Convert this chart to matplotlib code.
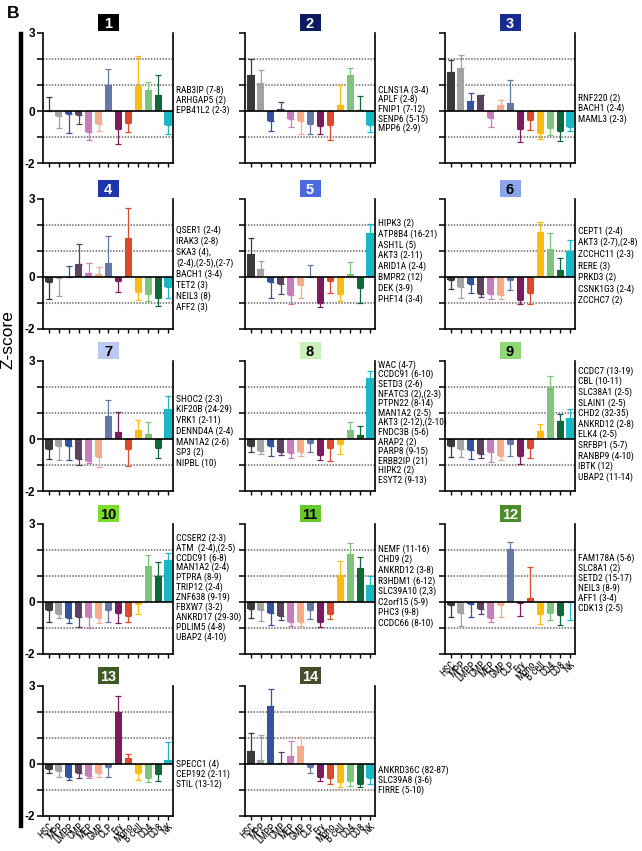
import matplotlib
matplotlib.use("Agg")
import matplotlib.pyplot as plt
from matplotlib import font_manager as fm
from matplotlib.patches import Rectangle
import numpy as np

# ---------------- data ----------------
cell_types = ["HSC", "MPP", "LMPP", "CMP", "MEP", "GMP", "CLP", "Ery", "Mono",
              "B cell", "CD4", "CD8", "NK"]

panel_ids = ["1", "2", "3", "4", "5", "6", "7", "8", "9", "10", "11", "12", "13", "14"]

mean_1 = [0.01, -0.2, -0.13, -0.15, -0.8, -0.5, 1.0, -0.7, -0.45, 0.97, 0.82, 0.6, -0.55]
sem_1 = [0.54, 0.45, 0.71, 0.35, 0.3, 0.25, 0.6, 0.55, 0.35, 1.13, 0.28, 0.77, 0.33]
mean_2 = [1.38, 1.06, -0.39, 0.06, -0.3, -0.39, -0.5, -0.58, -0.55, 0.22, 1.38, 0.05, -0.54]
sem_2 = [0.62, 0.5, 0.38, 0.3, 0.3, 0.49, 0.38, 0.3, 0.57, 0.78, 0.26, 0.53, 0.26]
mean_3 = [1.51, 1.65, 0.37, 0.6, -0.28, 0.22, 0.3, -0.71, -0.36, -0.86, -0.66, -0.77, -0.6]
sem_3 = [0.45, 0.5, 0.34, 0.02, 0.32, 0.19, 0.89, 0.49, 0.38, 0.21, 0.27, 0.39, 0.17]
mean_4 = [-0.19, -0.02, 0.01, 0.49, 0.14, 0.1, 0.54, -0.14, 1.51, -0.57, -0.65, -0.8, -0.4]
sem_4 = [0.65, 0.7, 0.4, 0.77, 0.39, 0.27, 1.03, 0.43, 1.15, 0.3, 0.27, 0.3, 0.41]
mean_5 = [0.9, 0.31, -0.21, -0.28, -0.71, -0.32, 0.01, -1.0, -0.16, -0.67, 0.13, -0.44, 1.69]
sem_5 = [0.6, 0.31, 0.59, 0.37, 0.33, 0.48, 0.46, 0.16, 0.45, 0.27, 0.45, 0.56, 0.33]
mean_6 = [-0.13, -0.39, -0.27, -0.65, -0.67, -0.71, -0.13, -0.87, -0.6, 1.72, 1.06, 0.28, 1.0]
sem_6 = [0.35, 0.43, 0.34, 0.13, 0.17, 0.13, 0.36, 0.18, 0.45, 0.41, 0.65, 0.44, 0.44]
mean_7 = [-0.37, -0.26, -0.26, -0.76, -0.83, -0.69, 0.87, 0.26, -0.37, 0.33, 0.18, -0.33, 1.14]
sem_7 = [0.41, 0.56, 0.56, 0.25, 0.09, 0.39, 0.64, 0.77, 0.68, 0.41, 0.46, 0.39, 0.5]
mean_8 = [-0.27, -0.48, -0.27, -0.49, -0.52, -0.5, -0.17, -0.62, -0.36, -0.19, 0.36, 0.17, 2.35]
sem_8 = [0.23, 0.1, 0.39, 0.13, 0.22, 0.16, 0.32, 0.18, 0.5, 0.39, 0.28, 0.34, 0.26]
mean_9 = [-0.25, -0.39, -0.43, -0.56, -0.51, -0.66, -0.21, -0.66, -0.36, 0.3, 2.0, 0.69, 0.79]
sem_9 = [0.45, 0.3, 0.34, 0.17, 0.39, 0.16, 0.45, 0.31, 0.38, 0.28, 0.43, 0.26, 0.38]
mean_10 = [-0.32, -0.45, -0.61, -0.57, -0.57, -0.63, -0.32, -0.41, -0.52, -0.09, 1.4, 1.01, 1.63]
sem_10 = [0.44, 0.18, 0.19, 0.39, 0.43, 0.16, 0.44, 0.39, 0.24, 0.39, 0.39, 0.51, 0.27]
mean_11 = [-0.25, -0.32, -0.44, -0.52, -0.78, -0.75, -0.31, -0.75, -0.48, 1.04, 1.84, 1.32, 0.66]
sem_11 = [0.35, 0.42, 0.46, 0.18, 0.13, 0.16, 0.35, 0.23, 0.18, 0.53, 0.44, 0.42, 0.35]
mean_12 = [-0.13, -0.41, -0.09, -0.25, -0.63, -0.13, 2.05, -0.05, 0.16, -0.48, -0.44, -0.51, -0.01]
sem_12 = [0.43, 0.5, 0.47, 0.22, 0.12, 0.43, 0.27, 0.47, 1.18, 0.35, 0.24, 0.36, 0.67]
mean_13 = [-0.2, -0.25, -0.5, -0.35, -0.45, -0.35, -0.1, 2.0, 0.25, -0.35, -0.55, -0.4, 0.15]
sem_13 = [0.15, 0.25, 0.1, 0.2, 0.1, 0.15, 0.4, 0.6, 0.15, 0.25, 0.15, 0.25, 0.7]
mean_14 = [0.5, 0.15, 2.25, 0.05, 0.3, 0.7, -0.1, -0.5, -0.55, -0.7, -0.65, -0.75, -0.55]
sem_14 = [0.7, 0.95, 0.65, 0.4, 0.6, 0.35, 0.25, 0.15, 0.2, 0.2, 0.2, 0.15, 0.2]

genes_1 = ["RAB3IP (7-8)", "ARHGAP5 (2)", "EPB41L2 (2-3)"]
genes_2 = ["CLNS1A (3-4)", "APLF (2-8)", "FNIP1 (7-12)", "SENP6 (5-15)", "MPP6 (2-9)"]
genes_3 = ["RNF220 (2)", "BACH1 (2-4)", "MAML3 (2-3)"]
genes_4 = ["QSER1 (2-4)", "IRAK3 (2-8)", "SKA3 (4),", "(2-4),(2-5),(2-7)", "BACH1 (3-4)",
           "TET2 (3)", "NEIL3 (8)", "AFF2 (3)"]
genes_5 = ["HIPK3 (2)", "ATP8B4 (16-21)", "ASH1L (5)", "AKT3 (2-11)", "ARID1A (2-4)",
           "BMPR2 (12)", "DEK (3-9)", "PHF14 (3-4)"]
genes_6 = ["CEPT1 (2-4)", "AKT3 (2-7),(2-8)", "ZCCHC11 (2-3)", "RERE (3)", "PRKD3 (2)",
           "CSNK1G3 (2-4)", "ZCCHC7 (2)"]
genes_7 = ["SHOC2 (2-3)", "KIF20B (24-29)", "VRK1 (2-11)", "DENND4A (2-4)", "MAN1A2 (2-6)",
           "SP3 (2)", "NIPBL (10)"]
genes_8 = ["WAC (4-7)", "CCDC91 (6-10)", "SETD3 (2-6)", "NFATC3 (2),(2-3)", "PTPN22 (8-14)",
           "MAN1A2 (2-5)", "AKT3 (2-12),(2-10)", "FNDC3B (5-6)", "ARAP2 (2)", "PARP8 (9-15)",
           "ERBB2IP (21)", "HIPK2 (2)", "ESYT2 (9-13)"]
genes_9 = ["CCDC7 (13-19)", "CBL (10-11)", "SLC38A1 (2-5)", "SLAIN1 (2-5)", "CHD2 (32-35)",
           "ANKRD12 (2-8)", "ELK4 (2-5)", "SRFBP1 (5-7)", "RANBP9 (4-10)", "IBTK (12)",
           "UBAP2 (11-14)"]
genes_10 = ["CCSER2 (2-3)", "ATM  (2-4),(2-5)", "CCDC91 (6-8)", "MAN1A2 (2-4)", "PTPRA (8-9)",
            "TRIP12 (2-4)", "ZNF638 (9-19)", "FBXW7 (3-2)", "ANKRD17 (29-30)", "PDLIM5 (4-8)",
            "UBAP2 (4-10)"]
genes_11 = ["NEMF (11-16)", "CHD9 (2)", "ANKRD12 (3-8)", "R3HDM1 (6-12)", "SLC39A10 (2,3)",
            "C2orf15 (5-9)", "PHC3 (9-8)", "CCDC66 (8-10)"]
genes_12 = ["FAM178A (5-6)", "SLC8A1 (2)", "SETD2 (15-17)", "NEIL3 (8-9)", "AFF1 (3-4)",
            "CDK13 (2-5)"]
genes_13 = ["SPECC1 (4)", "CEP192 (2-11)", "STIL (13-12)"]
genes_14 = ["ANKRD36C (82-87)", "SLC39A8 (3-6)", "FIRRE (5-10)"]

means = [mean_1, mean_2, mean_3, mean_4, mean_5, mean_6, mean_7, mean_8, mean_9,
         mean_10, mean_11, mean_12, mean_13, mean_14]
sems = [sem_1, sem_2, sem_3, sem_4, sem_5, sem_6, sem_7, sem_8, sem_9,
        sem_10, sem_11, sem_12, sem_13, sem_14]
genes = [genes_1, genes_2, genes_3, genes_4, genes_5, genes_6, genes_7, genes_8, genes_9,
         genes_10, genes_11, genes_12, genes_13, genes_14]

# ---------------- styles / layout ----------------
bar_colors = ["#3a3a3a", "#a3a3a3", "#3552a0", "#5b4260", "#c77dba", "#f7ab8c", "#6677a6",
              "#7b1c5e", "#dc4a2e", "#fbbc14", "#7fc47c", "#10673a", "#19b8c4"]
box_colors = ["#000000", "#0c1a5e", "#172c8c", "#1f35ad", "#4c69e0", "#8ba4ec", "#b9c9f2",
              "#c8f0b8", "#8fd874", "#7bdc2e", "#66c82a", "#4d8c2c", "#3c5a22", "#4a4a2c"]
box_text = ["white", "white", "white", "white", "white", "black", "black",
            "black", "black", "black", "black", "white", "white", "white"]

label_top = [57, 57, 65, 31, 24, 32, 38, 4, 10, 14, 25, 34, 78, 84]
label_step = [10.3, 9.6, 10.5, 11.0, 10.9, 11.6, 10.7, 9.6, 10.6, 9.9, 10.6, 10.0, 10.0, 10.0]

col_left = [43, 245, 445]
row_top = [33, 199, 361, 524, 686]
AX_W, AX_H = 130, 130
W, H = 642, 851

# pick a narrow sans font if one is installed
_installed = {f.name for f in fm.fontManager.ttflist}
_narrow_found = None
for cand in ["Liberation Sans Narrow", "Arial Narrow", "Roboto Condensed",
             "Open Sans Condensed", "Noto Sans Condensed"]:
    if cand in _installed:
        _narrow_found = cand
        break
if _narrow_found:
    NARROW = [_narrow_found, "Liberation Sans", "DejaVu Sans"]
    GENE_FS = 6.8
    TICK_FS = 7.2
else:
    NARROW = ["Roboto", "Liberation Sans", "DejaVu Sans"]
    GENE_FS = 5.9
    TICK_FS = 6.4
SANS = ["Liberation Sans", "DejaVu Sans"]
plt.rcParams["font.family"] = SANS
plt.rcParams["axes.unicode_minus"] = False

fig = plt.figure(figsize=(W / 100, H / 100), dpi=100)


def fx(px):
    return px / W


def fy(py):
    return 1 - py / H


x = np.arange(len(cell_types))
for i, pid in enumerate(panel_ids):
    r, c = divmod(i, 3)
    left, top = col_left[c], row_top[r]
    ax = fig.add_axes([fx(left), fy(top + AX_H), AX_W / W, AX_H / H])
    m = np.array(means[i])
    s = np.array(sems[i])
    ax.bar(x, m, width=0.72, color=bar_colors, zorder=2, linewidth=0)
    lower = np.where(m < 0, s, 0)
    upper = np.where(m >= 0, s, 0)
    for k in range(len(x)):
        ax.errorbar(x[k], m[k], yerr=[[lower[k]], [upper[k]]], fmt="none",
                    ecolor=bar_colors[k], elinewidth=0.9, capsize=2.0, capthick=0.9, zorder=2)
    for yv in (2, 1, -1):
        ax.axhline(yv, color="#8a8a8a", lw=1.5, ls=(0, (0.7, 0.7)), zorder=1)
    ax.axhline(0, color="black", lw=1.2, zorder=3)
    ax.set_xlim(-0.6, 12.5)
    ax.set_ylim(-2, 3)
    ax.spines["top"].set_visible(False)
    for sp in ("left", "right", "bottom"):
        ax.spines[sp].set_linewidth(1.2)
    ax.set_yticks([3, 0, -2])
    ax.set_yticks([2, 1, -1], minor=True)
    ax.tick_params(axis="y", which="major", length=4, width=1.1, labelsize=8.5, pad=1.5)
    ax.tick_params(axis="y", which="minor", length=4, width=1.1)
    if c == 0:
        for lab in ax.get_yticklabels():
            lab.set_fontweight("bold")
    else:
        ax.set_yticklabels([])
    ax.set_xticks(x)
    ax.tick_params(axis="x", length=3, width=1.0, pad=1)
    if pid in ("12", "13", "14"):
        ax.set_xticklabels(cell_types, rotation=45, ha="right", rotation_mode="anchor",
                           family=NARROW, fontsize=TICK_FS)
    else:
        ax.set_xticklabels([])
    # numbered title box
    cx = left + AX_W / 2
    bw, bh = 21, 17
    fig.patches.append(Rectangle((fx(cx - bw / 2), fy(top - 2)), bw / W, bh / H,
                                 transform=fig.transFigure, facecolor=box_colors[i],
                                 edgecolor="none"))
    fig.text(fx(cx), fy(top - 2 - bh / 2), pid, ha="center", va="center_baseline",
             fontsize=10.5, fontweight="bold", color=box_text[i], family=SANS)
    # gene labels
    for j, g in enumerate(genes[i]):
        fig.text(fx(left + AX_W + 3), fy(top + label_top[i] + j * label_step[i]), g,
                 ha="left", va="center", fontsize=GENE_FS, family=NARROW)

# left bracket bar, y label, panel letter
fig.add_artist(plt.Line2D([fx(21), fx(21)], [fy(34), fy(826)], color="black", lw=3.2,
                          transform=fig.transFigure))
fig.text(fx(8), fy(340), "Z-score", rotation=90, ha="center", va="center", fontsize=12.5)
fig.text(fx(13), fy(14), "B", ha="center", va="center", fontsize=12.5, fontweight="bold")

fig.savefig("out.png", dpi=100)
